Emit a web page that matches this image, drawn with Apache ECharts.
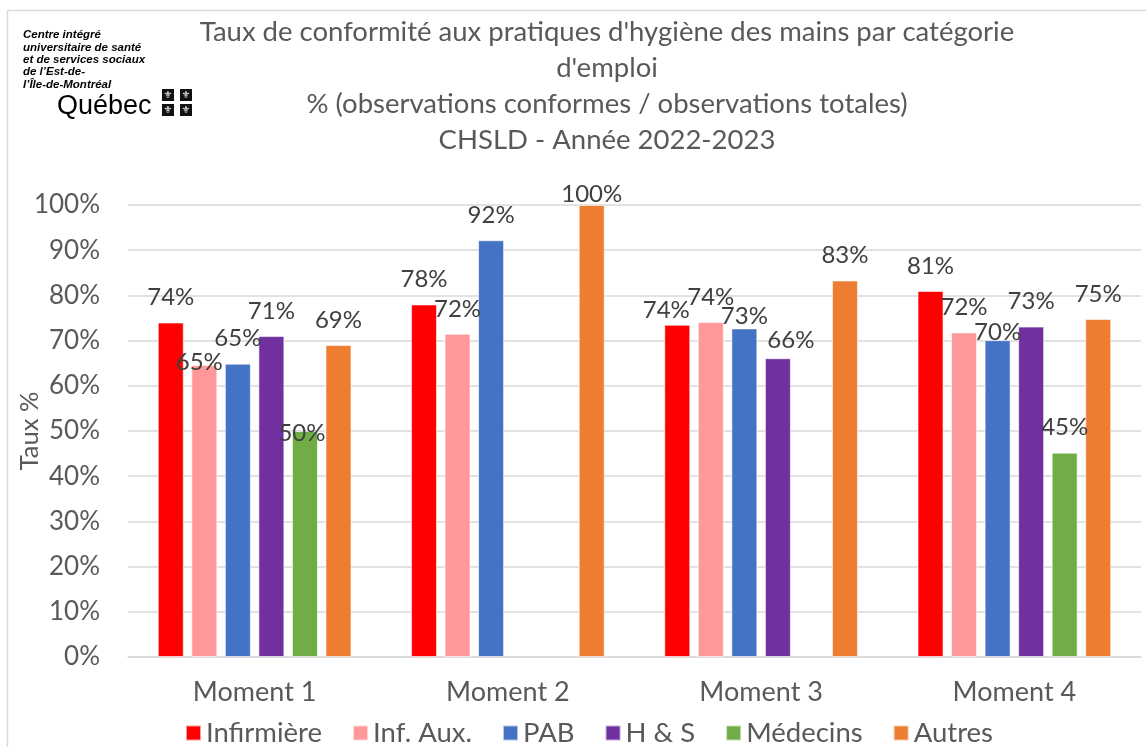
<!DOCTYPE html>
<html>
<head>
<meta charset="utf-8">
<script src="https://cdn.jsdelivr.net/npm/echarts@6/dist/echarts.min.js"></script>
<style>
  html, body { margin: 0; padding: 0; background: #fff; }
  #chart { width: 1146px; height: 747px; }
</style>
</head>
<body>
<div id="chart"></div>
<script>
// categories and series values (percent)
var categories = ['Moment 1', 'Moment 2', 'Moment 3', 'Moment 4'];
var seriesNames = ['Infirmière', 'Inf. Aux.', 'PAB', 'H & S', 'Médecins', 'Autres'];
var infirmiere = [74, 78, 73.5, 81];
var infAux = [64.6, 71.5, 74.1, 71.8];
var pab = [64.9, 92.2, 72.7, 70.1];
var hs = [71, null, 66.1, 73.1];
var medecins = [50, null, null, 45.2];
var autres = [69, 100, 83.3, 74.8];
var yTicks = [0, 10, 20, 30, 40, 50, 60, 70, 80, 90, 100];

var values = [infirmiere, infAux, pab, hs, medecins, autres];
var colors = ['#FF0000', '#FF9999', '#4472C4', '#7030A0', '#70AD47', '#ED7D31'];

// label nudges copied from the Excel layout ("series-category": [dx, dy])
var labelShift = {
    '1-0': [-5, 22],
    '4-0': [-3, 27],
    '5-1': [0, 14],
    '0-2': [-11, 10],
    '2-2': [0, 13],
    '3-2': [13, 7],
    '2-3': [0, 17]
};

var font = 'Lato, "Liberation Sans", sans-serif';

var series = seriesNames.map(function (name, s) {
    return {
        name: name,
        type: 'bar',
        barWidth: 26,
        barGap: '29%',
        itemStyle: { color: colors[s], borderColor: 'rgba(255,255,255,0.6)', borderWidth: 1 },
        label: {
            show: true,
            position: 'top',
            distance: 13,
            fontFamily: font,
            fontSize: 24,
            color: '#404040',
            formatter: function (p) { return Math.round(p.value) + '%'; }
        },
        data: values[s].map(function (v, c) {
            var item = { value: v };
            var sh = labelShift[s + '-' + c];
            if (sh) item.label = { offset: sh };
            return item;
        })
    };
});

function fleur(x, y) {
    return [
        { type: 'rect', shape: { x: x, y: y, width: 12, height: 12 }, style: { fill: '#111' } },
        { type: 'text', style: { x: x + 6, y: y + 6.5, text: '\u269C', align: 'center', verticalAlign: 'middle',
            font: 'bold 10px "DejaVu Sans"', fill: '#fff' } }
    ];
}

var chart = echarts.init(document.getElementById('chart'));
chart.setOption({
    animation: false,
    backgroundColor: '#fff',
    color: colors,
    graphic: [
        { type: 'rect', silent: true, shape: { x: 7.5, y: 10.5, width: 1200, height: 800 },
          style: { fill: 'none', stroke: '#d9d9d9', lineWidth: 1.5 } },
        { type: 'text', left: 23, top: 29, style: {
            text: 'Centre intégré\nuniversitaire de santé\net de services sociaux\nde l\u2019Est-de-\nl\u2019Île-de-Montréal',
            font: 'italic bold 11.5px "Liberation Sans", Arial, sans-serif', lineHeight: 12.3, fill: '#000' } },
        { type: 'text', left: 57, top: 93, style: {
            text: 'Québec', font: '27px "Liberation Sans", sans-serif', fill: '#000' } }
    ].concat(fleur(162, 89), fleur(180, 89), fleur(162, 104), fleur(180, 104)).concat([
        { type: 'text', style: {
            x: 607, y: 14, align: 'center',
            text: 'Taux de conformité aux pratiques d\'hygiène des mains par catégorie\nd\'emploi\n% (observations conformes / observations totales)\nCHSLD - Année 2022-2023',
            font: '27.5px ' + font, lineHeight: 36, fill: '#595959' } }
    ]),
    legend: {
        left: 180,
        top: 714,
        itemWidth: 15,
        itemHeight: 15,
        itemGap: 30,
        icon: 'rect',
        textStyle: { fontFamily: font, fontSize: 27.5, color: '#595959' },
        data: seriesNames
    },
    grid: { left: 128, right: 5, top: 205, bottom: 90, containLabel: false, outerBoundsMode: 'none' },
    xAxis: {
        type: 'category',
        data: categories,
        axisLine: { lineStyle: { color: '#d9d9d9', width: 1.5 } },
        axisTick: { show: false },
        axisLabel: { fontFamily: font, fontSize: 27, color: '#595959', margin: 22 }
    },
    yAxis: {
        type: 'value',
        min: yTicks[0],
        max: yTicks[yTicks.length - 1],
        interval: yTicks[1] - yTicks[0],
        name: 'Taux %',
        nameLocation: 'middle',
        nameGap: 85,
        nameMoveOverlap: false,
        nameTextStyle: { fontFamily: font, fontSize: 25.5, color: '#595959' },
        axisLine: { show: false },
        axisTick: { show: false },
        splitLine: { lineStyle: { color: '#d9d9d9', width: 1.5 } },
        axisLabel: { fontFamily: font, fontSize: 26, color: '#595959', margin: 28, formatter: '{value}%' }
    },
    series: series
});
</script>
</body>
</html>
